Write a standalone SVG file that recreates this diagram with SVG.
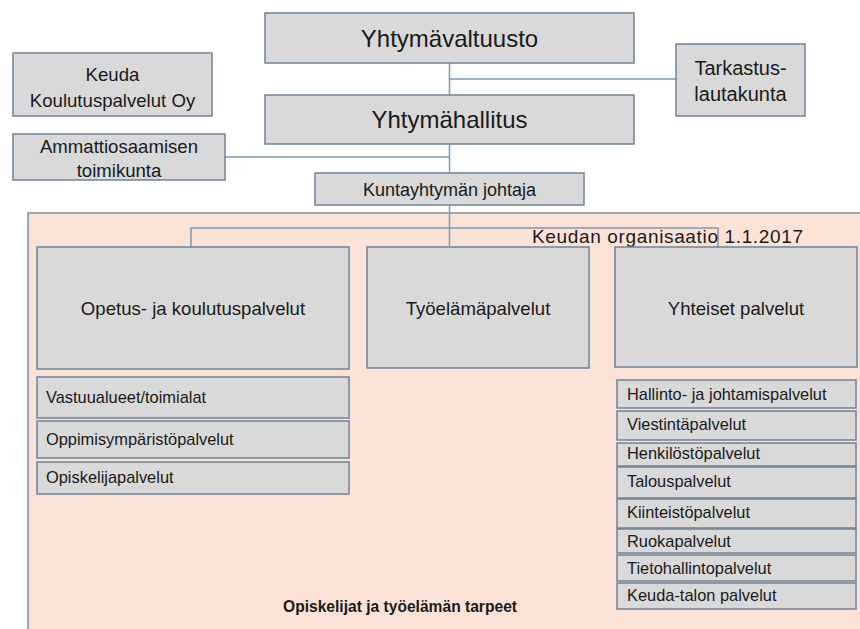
<svg xmlns="http://www.w3.org/2000/svg" width="860" height="629" viewBox="0 0 860 629">
<style>
.bx{fill:#d9d9d9;stroke:#6f8296;stroke-width:1.5}
.t{font-family:"Liberation Sans",Arial,sans-serif;fill:#1a1a1a}
.c{text-anchor:middle}
.m{font-size:18.6px}
.s{font-size:16.4px}
.cn{stroke:#7f9ab5;stroke-width:1.5;fill:none}
</style>
<rect width="860" height="629" fill="#ffffff"/>
<rect id="area" x="28" y="213" width="840" height="430" fill="#fae3d6" stroke="#7d8ea3" stroke-width="1.5"/>
<g id="connectors">
<path class="cn" d="M449.5 63 V95 M449.5 79 H676 M449.5 144 V173 M225 157 H449.5 M449.5 205 V247 M191 247 V228 H718 V247"/>
</g>
<g id="valtuusto"><rect class="bx" x="265" y="13" width="369" height="50"/><text class="t c" x="449.5" y="46.5" font-size="24">Yhtymävaltuusto</text></g>
<g id="keuda"><rect class="bx" x="13" y="53" width="199" height="63"/><text class="t c m" x="112.5" y="80.5">Keuda</text><text class="t c m" x="112.5" y="106.5">Koulutuspalvelut Oy</text></g>
<g id="tarkastus"><rect class="bx" x="676" y="44" width="129" height="72"/><text class="t c" x="740.5" y="75" font-size="20">Tarkastus-</text><text class="t c" x="740.5" y="101" font-size="20">lautakunta</text></g>
<g id="hallitus"><rect class="bx" x="265" y="95" width="369" height="49"/><text class="t c" x="449.5" y="128" font-size="24">Yhtymähallitus</text></g>
<g id="ammatti"><rect class="bx" x="13" y="134" width="212" height="46"/><text class="t c m" x="119" y="152.5">Ammattiosaamisen</text><text class="t c m" x="119" y="176.5">toimikunta</text></g>
<g id="johtaja"><rect class="bx" x="315" y="173" width="269" height="32"/><text class="t c" x="449.5" y="196" font-size="18">Kuntayhtymän johtaja</text></g>
<g id="title"><text class="t" x="532" y="243" font-size="19" fill="#333" textLength="271">Keudan organisaatio 1.1.2017</text></g>
<g id="opetus"><rect class="bx" x="37" y="247" width="312" height="122"/><text class="t c m" x="193" y="315">Opetus- ja koulutuspalvelut</text></g>
<g id="tyoelama"><rect class="bx" x="367" y="247" width="222" height="121"/><text class="t c m" x="478" y="315">Työelämäpalvelut</text></g>
<g id="yhteiset"><rect class="bx" x="615" y="247" width="242" height="120"/><text class="t c m" x="736" y="315">Yhteiset palvelut</text></g>
<g id="vastuu"><rect class="bx" x="37" y="377" width="312" height="41"/><text class="t s" x="46" y="403">Vastuualueet/toimialat</text></g>
<g id="oppimis"><rect class="bx" x="37" y="421" width="312" height="37"/><text class="t s" x="46" y="445">Oppimisympäristöpalvelut</text></g>
<g id="opiskelija"><rect class="bx" x="37" y="462" width="312" height="32"/><text class="t s" x="46" y="483">Opiskelijapalvelut</text></g>
<g id="hallinto"><rect class="bx" x="617" y="380" width="239" height="28"/><text class="t s" x="627" y="400">Hallinto- ja johtamispalvelut</text></g>
<g id="viestinta"><rect class="bx" x="617" y="411" width="239" height="29"/><text class="t s" x="627" y="430">Viestintäpalvelut</text></g>
<g id="henkilosto"><rect class="bx" x="617" y="443" width="239" height="23"/><text class="t s" x="627" y="459">Henkilöstöpalvelut</text></g>
<g id="talous"><rect class="bx" x="617" y="467" width="239" height="31"/><text class="t s" x="627" y="487">Talouspalvelut</text></g>
<g id="kiinteisto"><rect class="bx" x="617" y="499" width="239" height="29"/><text class="t s" x="627" y="518">Kiinteistöpalvelut</text></g>
<g id="ruoka"><rect class="bx" x="617" y="529" width="239" height="24"/><text class="t s" x="627" y="547">Ruokapalvelut</text></g>
<g id="tieto"><rect class="bx" x="617" y="555" width="239" height="26"/><text class="t s" x="627" y="574">Tietohallintopalvelut</text></g>
<g id="keudatalo"><rect class="bx" x="617" y="583" width="239" height="26"/><text class="t s" x="627" y="601">Keuda-talon palvelut</text></g>
<g id="footer"><text class="t" x="283" y="612" font-size="15.6" font-weight="bold">Opiskelijat ja työelämän tarpeet</text></g>
</svg>
